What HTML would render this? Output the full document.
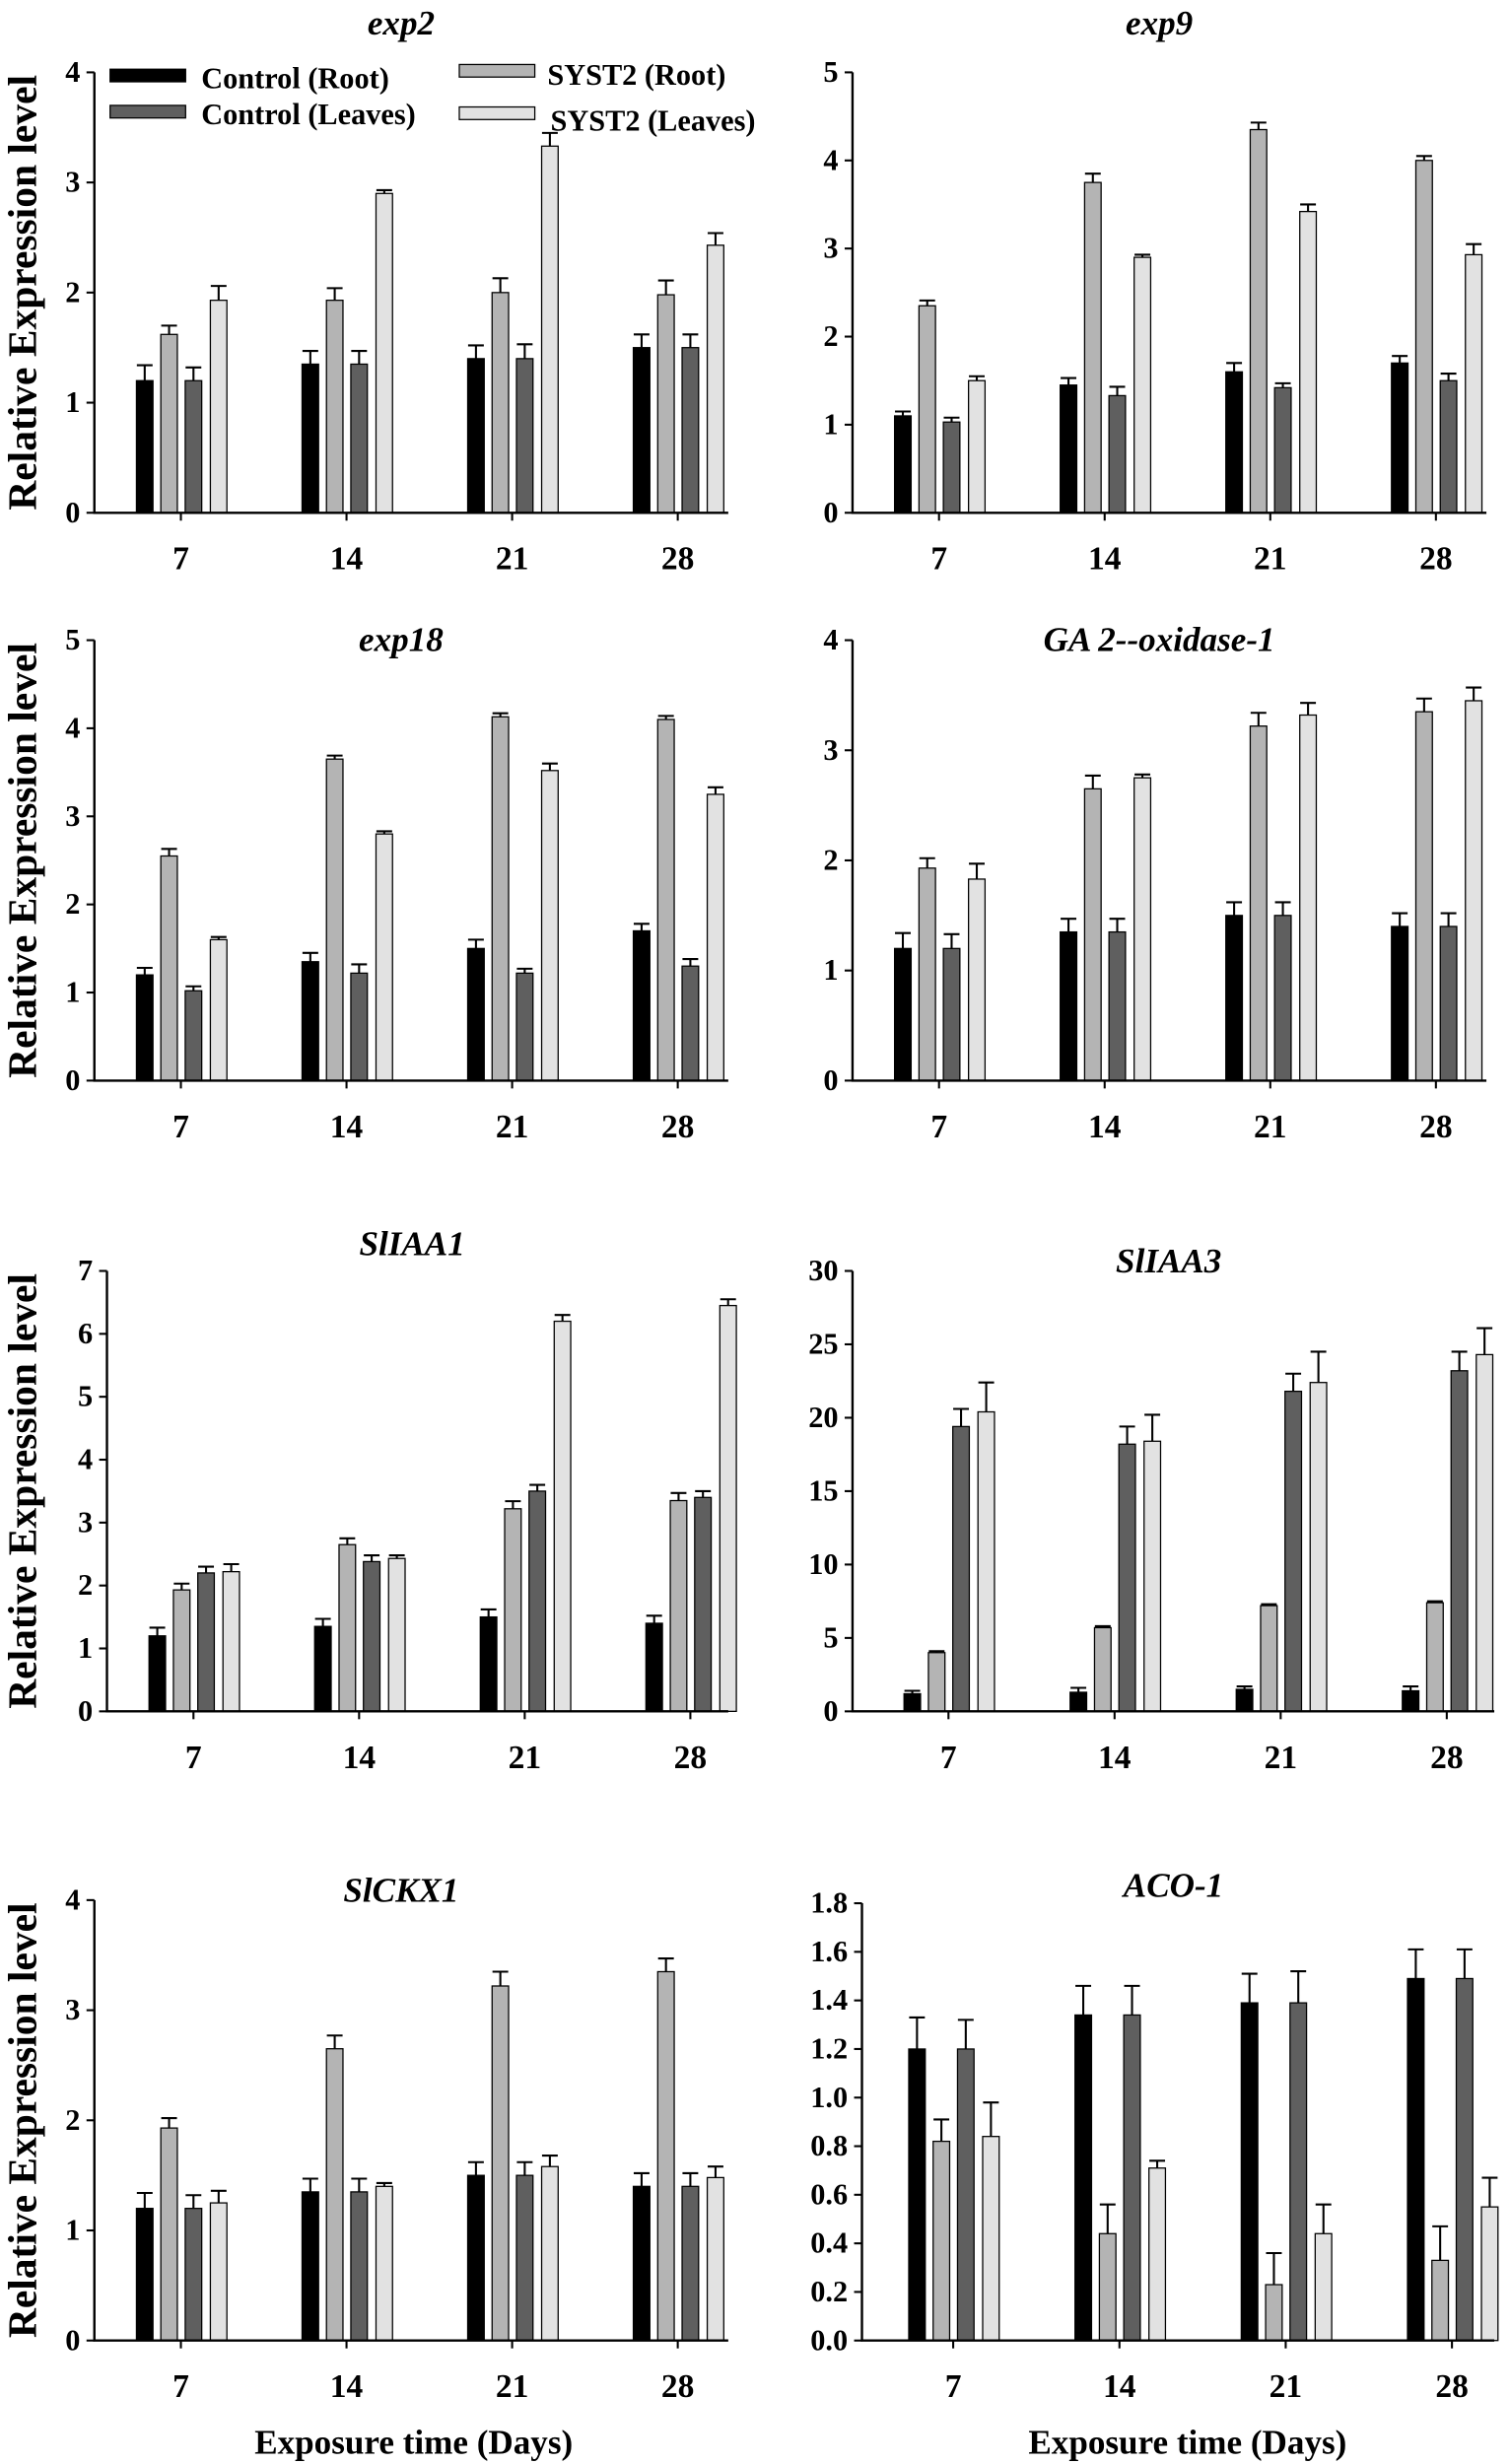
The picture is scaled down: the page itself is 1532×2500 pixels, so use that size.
<!DOCTYPE html>
<html><head><meta charset="utf-8"><style>
html,body{margin:0;padding:0;background:#fff;}
svg{display:block;}
text{font-family:"Liberation Serif",serif;font-weight:bold;fill:#000;}
</style></head><body>
<svg id="fig" xmlns="http://www.w3.org/2000/svg" width="1532" height="2500" viewBox="0 0 960 1566.5" preserveAspectRatio="none"></svg>
<script>
const days = ["7","14","21","28"];
const seriesNames = ["Control (Root)","SYST2 (Root)","Control (Leaves)","SYST2 (Leaves)"];
const seriesColors = ["#000000","#b4b4b4","#5f5f5f","#e2e2e2"];

const exp2Vals = [[1.2,1.35,1.4,1.5],[1.62,1.93,2.0,1.98],[1.2,1.35,1.4,1.5],[1.93,2.9,3.33,2.43]];
const exp2Errs = [[0.14,0.12,0.12,0.12],[0.08,0.11,0.13,0.13],[0.12,0.12,0.13,0.12],[0.13,0.03,0.12,0.11]];
const exp9Vals = [[1.1,1.45,1.6,1.7],[2.35,3.75,4.35,4.0],[1.03,1.33,1.42,1.5],[1.5,2.9,3.42,2.93]];
const exp9Errs = [[0.05,0.08,0.1,0.08],[0.06,0.1,0.08,0.05],[0.05,0.1,0.05,0.08],[0.05,0.03,0.08,0.12]];
const exp18Vals = [[1.2,1.35,1.5,1.7],[2.55,3.65,4.13,4.1],[1.02,1.22,1.22,1.3],[1.6,2.8,3.52,3.25]];
const exp18Errs = [[0.08,0.1,0.1,0.08],[0.08,0.04,0.04,0.04],[0.05,0.1,0.05,0.08],[0.03,0.03,0.08,0.08]];
const gaVals = [[1.2,1.35,1.5,1.4],[1.93,2.65,3.22,3.35],[1.2,1.35,1.5,1.4],[1.83,2.75,3.32,3.45]];
const gaErrs = [[0.14,0.12,0.12,0.12],[0.09,0.12,0.12,0.12],[0.13,0.12,0.12,0.12],[0.14,0.03,0.11,0.12]];
const iaa1Vals = [[1.2,1.35,1.5,1.4],[1.93,2.65,3.22,3.35],[2.2,2.38,3.5,3.4],[2.22,2.43,6.2,6.45]];
const iaa1Errs = [[0.13,0.12,0.12,0.12],[0.1,0.1,0.12,0.12],[0.1,0.1,0.1,0.1],[0.12,0.05,0.1,0.1]];
const iaa3Vals = [[1.2,1.3,1.5,1.4],[4.0,5.7,7.2,7.4],[19.4,18.2,21.8,23.2],[20.4,18.4,22.4,24.3]];
const iaa3Errs = [[0.2,0.3,0.2,0.3],[0.1,0.1,0.1,0.1],[1.2,1.2,1.2,1.3],[2.0,1.8,2.1,1.8]];
const ckxVals = [[1.2,1.35,1.5,1.4],[1.93,2.65,3.22,3.35],[1.2,1.35,1.5,1.4],[1.25,1.4,1.58,1.48]];
const ckxErrs = [[0.14,0.12,0.12,0.12],[0.09,0.12,0.13,0.12],[0.12,0.12,0.12,0.12],[0.11,0.03,0.1,0.1]];
const acoVals = [[1.2,1.34,1.39,1.49],[0.82,0.44,0.23,0.33],[1.2,1.34,1.39,1.49],[0.84,0.71,0.44,0.55]];
const acoErrs = [[0.13,0.12,0.12,0.12],[0.09,0.12,0.13,0.14],[0.12,0.12,0.13,0.12],[0.14,0.03,0.12,0.12]];

const exp2Ticks = ["0","1","2","3","4"];
const exp9Ticks = ["0","1","2","3","4","5"];
const exp18Ticks = ["0","1","2","3","4","5"];
const gaTicks = ["0","1","2","3","4"];
const iaa1Ticks = ["0","1","2","3","4","5","6","7"];
const iaa3Ticks = ["0","5","10","15","20","25","30"];
const ckxTicks = ["0","1","2","3","4"];
const acoTicks = ["0.0","0.2","0.4","0.6","0.8","1.0","1.2","1.4","1.6","1.8"];

const NS = "http://www.w3.org/2000/svg";
const svg = document.getElementById("fig");
function mk(tag, attrs, parent){
  const e = document.createElementNS(NS, tag);
  for (const k in attrs) e.setAttribute(k, attrs[k]);
  (parent||svg).appendChild(e);
  return e;
}

const panels = [
  {name:"exp2", title:"exp2", vals:exp2Vals, errs:exp2Errs, ticks:exp2Ticks, x0:60, x1:463, top:46, bot:326, c0:115, step:105.3, ty:14, tx:255},
  {name:"exp9", title:"exp9", vals:exp9Vals, errs:exp9Errs, ticks:exp9Ticks, x0:542, x1:945, top:46, bot:326, c0:597, step:105.3, ty:14, tx:737},
  {name:"exp18", title:"exp18", vals:exp18Vals, errs:exp18Errs, ticks:exp18Ticks, x0:60, x1:463, top:407, bot:687, c0:115, step:105.3, ty:406, tx:255},
  {name:"ga2-oxidase", title:"GA 2--oxidase-1", vals:gaVals, errs:gaErrs, ticks:gaTicks, x0:542, x1:945, top:407, bot:687, c0:597, step:105.3, ty:406, tx:737},
  {name:"sliaa1", title:"SlIAA1", vals:iaa1Vals, errs:iaa1Errs, ticks:iaa1Ticks, x0:68, x1:463, top:808, bot:1088, c0:123, step:105.3, ty:790, tx:262},
  {name:"sliaa3", title:"SlIAA3", vals:iaa3Vals, errs:iaa3Errs, ticks:iaa3Ticks, x0:542, x1:950, top:808, bot:1088, c0:603, step:105.6, ty:801, tx:743},
  {name:"slckx1", title:"SlCKX1", vals:ckxVals, errs:ckxErrs, ticks:ckxTicks, x0:60, x1:463, top:1208, bot:1488, c0:115, step:105.3, ty:1201, tx:255},
  {name:"aco1", title:"ACO-1", vals:acoVals, errs:acoErrs, ticks:acoTicks, x0:548, x1:950, top:1210, bot:1488, c0:606, step:105.7, ty:1198, tx:746}
];
const offsets = [-23,-7.5,8,24];
const bw = 10.5;

panels.forEach(p => {
  const g = mk("g", {});
  
  
  const maxV = parseFloat(p.ticks[p.ticks.length-1]);
  const yS = v => p.bot - (v / maxV) * (p.bot - p.top);
  const xS = i => p.c0 + i * p.step;

  const t = mk("text", {x:p.tx, y:p.ty+8, "text-anchor":"middle", "font-size":"22", "font-style":"italic"}, g);
  t.textContent = p.title;
  
  

  p.vals.forEach((sv, s) => {
    sv.forEach((v, i) => {
      const cx = xS(i) + offsets[s];
      const y = yS(v);
      const r = mk("rect", {x:cx-bw/2, y:y, width:bw, height:p.bot-y, fill:seriesColors[s], stroke:"#000", "stroke-width":"0.8"}, g);
      
      
      const ey = yS(v + p.errs[s][i]);
      const e = mk("path", {d:`M${cx} ${y} V${ey} M${cx-5} ${ey} H${cx+5}`, stroke:"#000", "stroke-width":"1.3", fill:"none"}, g);
      
      
    });
  });

  const ax = mk("path", {d:`M${p.x0} ${p.top} V${p.bot} H${p.x1}`, stroke:"#000", "stroke-width":"1.5", fill:"none"}, g);
  
  
  p.ticks.forEach((lab, k) => {
    const y = yS(parseFloat(lab));
    mk("line", {x1:p.x0-5, x2:p.x0, y1:y, y2:y, stroke:"#000", "stroke-width":"1.3"}, g);
    const tt = mk("text", {x:p.x0-9, y:y+6, "text-anchor":"end", "font-size":"19"}, g);
    tt.textContent = lab;
    
    
  });
  days.forEach((d, i) => {
    const x = xS(i);
    mk("line", {x1:x, x2:x, y1:p.bot, y2:p.bot+5, stroke:"#000", "stroke-width":"1.3"}, g);
    const tt = mk("text", {x:x, y:p.bot+36, "text-anchor":"middle", "font-size":"21"}, g);
    tt.textContent = d;
    
    
  });
});

[186, 547, 948, 1348].forEach((cy, k) => {
  const t = mk("text", {x:0, y:0, transform:`translate(23 ${cy}) rotate(-90)`, "text-anchor":"middle", "font-size":"26"});
  t.textContent = "Relative Expression level";
  
  
});
[263, 755].forEach(cx => {
  const t = mk("text", {x:cx, y:1560, "text-anchor":"middle", "font-size":"22"});
  t.textContent = "Exposure time (Days)";
  
  
});

const legPos = [[70,44,128,56],[292,41,348,54],[70,67,128,79],[292,68,350,83]];
seriesNames.forEach((n, s) => {
  const lp = legPos[s];
  const r = mk("rect", {x:lp[0], y:lp[1], width:48, height:8, fill:seriesColors[s], stroke:"#000", "stroke-width":"0.8"});
  
  
  const t = mk("text", {x:lp[2], y:lp[3], "font-size":"19"});
  t.textContent = n;
  
  
});
</script>
</body></html>
